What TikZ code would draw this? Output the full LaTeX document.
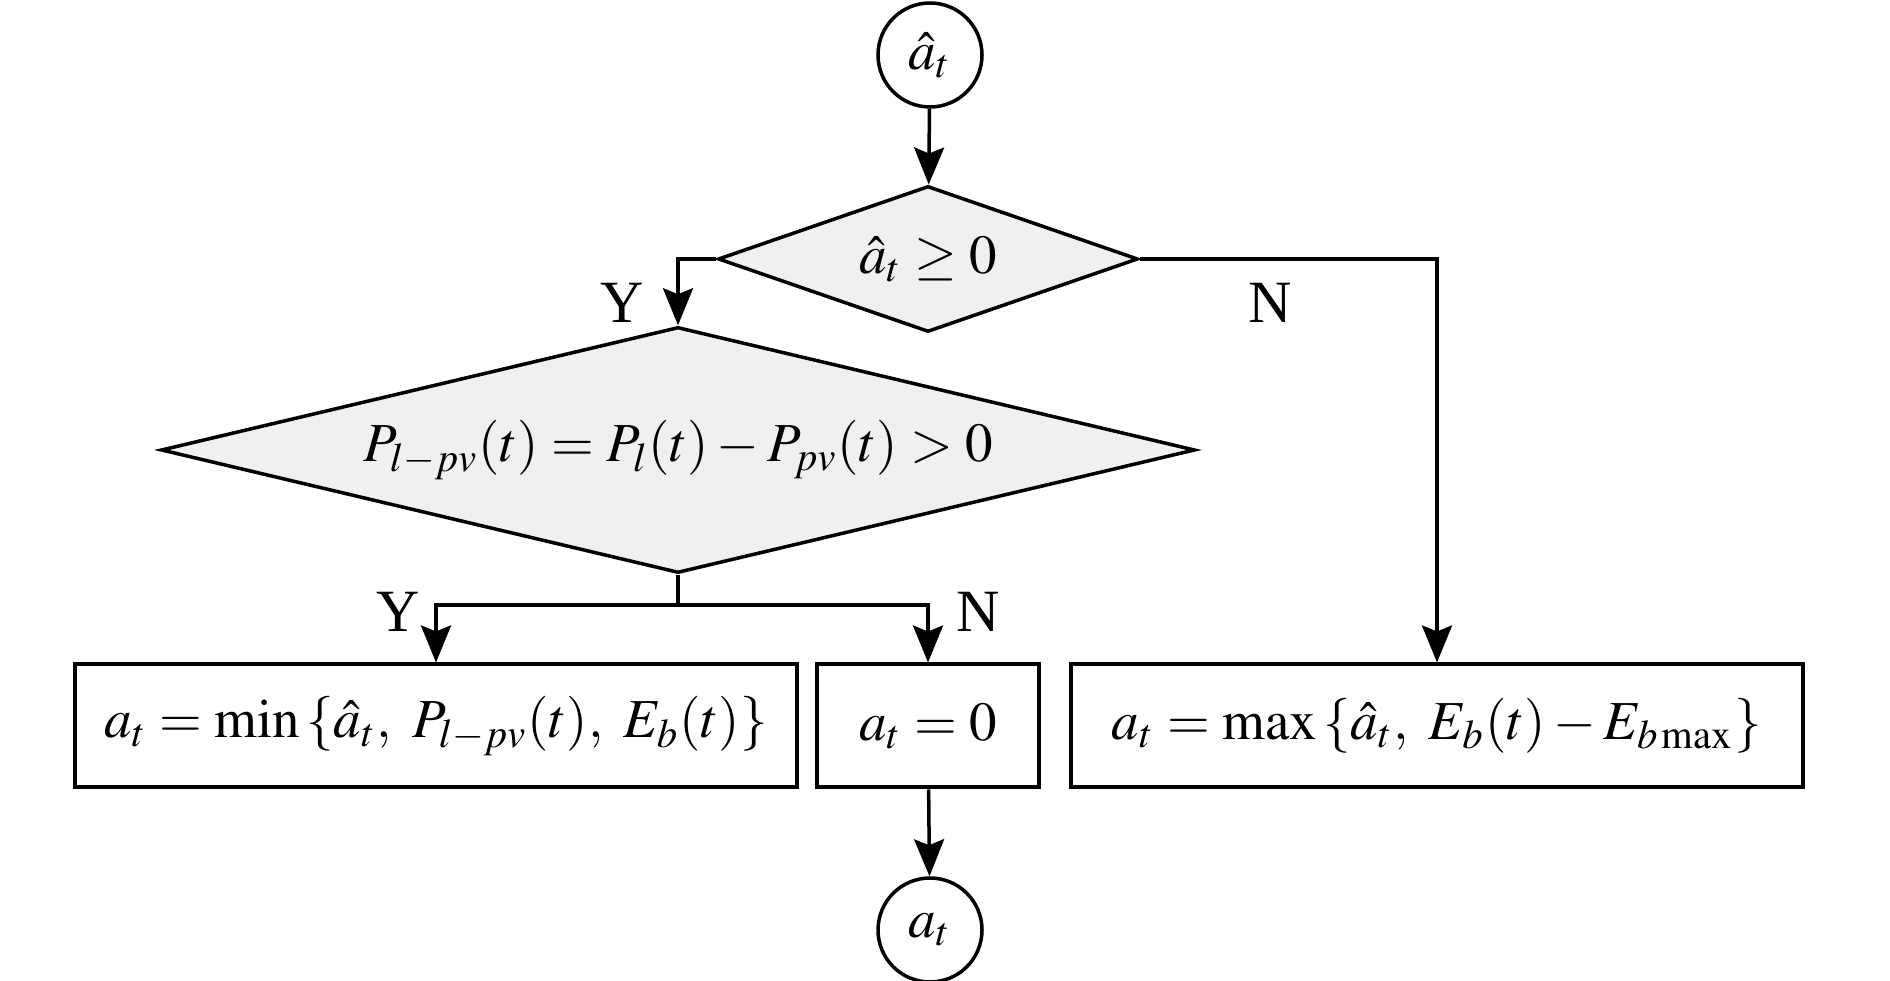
\documentclass[tikz,border=0pt]{standalone}
\usepackage{amsmath}
\usepackage{mathptmx}
\usepackage{fontspec}
\setmainfont{Liberation Serif}
\usetikzlibrary{shapes.geometric,arrows.meta}

\begin{document}
\begin{tikzpicture}[x=0.2pt,y=-0.2pt,
        decision/.style={diamond,draw,line width=0.7pt,fill=black!6,inner sep=0pt,font=\fontsize{11}{13}\selectfont},
        process/.style={rectangle,draw,line width=0.8pt,minimum height=24.6pt,inner sep=0pt,font=\fontsize{11}{13}\selectfont},
        terminal/.style={circle,draw,line width=0.7pt,minimum size=20.8pt,inner sep=0pt,font=\fontsize{11}{13}\selectfont},
        flow/.style={line width=0.7pt,-{Stealth[length=7.4pt,width=6pt,inset=1.2pt]}},
        yn/.style={font=\fontsize{12}{14}\selectfont}]
                \useasboundingbox (0,0) rectangle (1890,981);

                % start / end
                \node [terminal] (start) at (930,55) {$\hat{a}_t$};
                \node [terminal] (stop) at (930,930) {$a_t$};

                % tests
                \node [decision,minimum width=84pt,minimum height=29.2pt,aspect=2.9] (sign) at (928,259) {$\hat{a}_t \geq 0$};
                \node [decision,minimum width=206.8pt,minimum height=49.2pt,aspect=4.2] (load) at (678,450) {$P_{l-pv}(t) = P_l(t) - P_{pv}(t) > 0$};

                % actions
                \node [process,minimum width=144.2pt] (charge) at (436,726) {$a_t = \min\,\{\hat{a}_t,\ P_{l-pv}(t),\ E_b(t)\}$};
                \node [process,minimum width=44.4pt] (idle) at (928,726) {$a_t = 0$};
                \node [process,minimum width=146.4pt] (discharge) at (1437,726) {$a_t = \max\,\{\hat{a}_t,\ E_b(t)-E_{b\,\mathrm{max}}\}$};

                \coordinate (split) at (678,605);

                \draw [flow] (start) -- (sign);
                \draw [flow] (sign.west) -| (load.north);
                \draw [flow] (sign.east) -| (discharge.north);
                \draw [line width=0.7pt] (load.south) -- (split);
                \draw [flow] (split) -| (charge.north);
                \draw [flow] (split) -| (idle.north);
                \draw [flow] (idle) -- (stop);

                \node [yn] at (622,303) {Y};
                \node [yn] at (1270,303) {N};
                \node [yn] at (398,612) {Y};
                \node [yn] at (978,612) {N};
            \end{tikzpicture}
\end{document}
